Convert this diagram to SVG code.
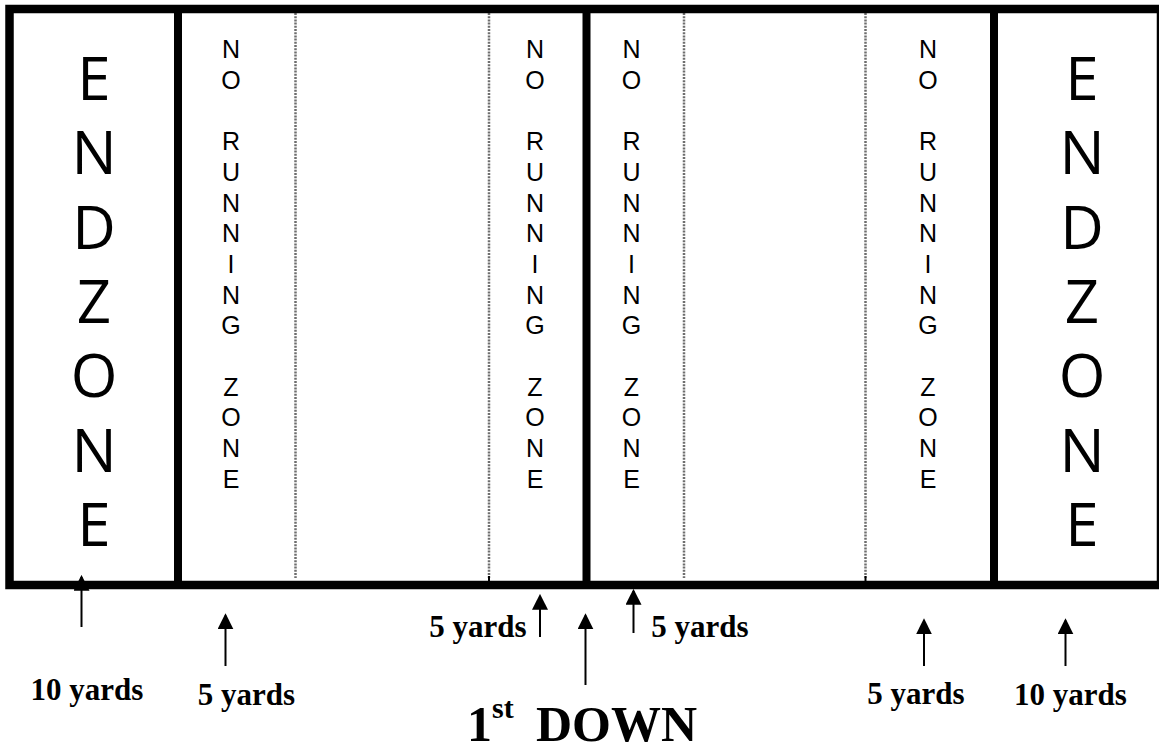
<svg xmlns="http://www.w3.org/2000/svg" width="1159" height="752" viewBox="0 0 1159 752">
  <defs>
    <marker id="ah" markerUnits="userSpaceOnUse" markerWidth="16" markerHeight="16" refX="13" refY="7.5" orient="auto" viewBox="0 0 15 15">
      <path d="M0,0 L15,7.5 L0,15 Z" fill="#000"/>
    </marker>
    <style>
      .border { fill: none; stroke: #000; stroke-width: 8.5; }
      .thick { stroke: #000; stroke-width: 8; }
      .dot { stroke: #6e6e6e; stroke-width: 2.5; stroke-dasharray: 2 1.2; }
      .tick { stroke: #000; stroke-width: 2; }
      .ez { font-family: "Open Sans", "DejaVu Sans", sans-serif; font-size: 60px; fill: #000; text-anchor: middle; }
      .nrz { font-family: "Liberation Sans", Arial, sans-serif; font-size: 25px; fill: #000; text-anchor: middle; }
      .lbl { font-family: "Liberation Serif", "Times New Roman", serif; font-weight: bold; font-size: 31px; fill: #000; text-anchor: middle; }
      .down { font-family: "Liberation Serif", "Times New Roman", serif; font-weight: bold; font-size: 50px; fill: #000; }
      .arrow { stroke: #000; stroke-width: 2; fill: none; marker-end: url(#ah); }
    </style>
  </defs>
  <rect width="1159" height="752" fill="#fff"/>

  <g id="field">
    <line class="dot" x1="295.5" y1="13" x2="295.5" y2="578"/>
    <line class="dot" x1="489" y1="13" x2="489" y2="578"/>
    <line class="dot" x1="684" y1="13" x2="684" y2="578"/>
    <line class="dot" x1="865.5" y1="13" x2="865.5" y2="578"/>
    <line class="tick" x1="489" y1="576" x2="489" y2="582"/>
    <line class="tick" x1="865.5" y1="576" x2="865.5" y2="582"/>
    <rect class="border" x="9.5" y="9" width="1151.5" height="576"/>
    <line class="thick" x1="178" y1="9" x2="178" y2="585"/>
    <line class="thick" x1="586.5" y1="9" x2="586.5" y2="585"/>
    <line class="thick" x1="994" y1="9" x2="994" y2="585"/>
  </g>

  <g id="endzone-left">
    <text class="ez" x="94"><tspan x="94" y="100">E</tspan><tspan x="94" y="174.3">N</tspan><tspan x="94" y="248.6">D</tspan><tspan x="94" y="322.9">Z</tspan><tspan x="94" y="397.2">O</tspan><tspan x="94" y="471.5">N</tspan><tspan x="94" y="545.8">E</tspan></text>
  </g>
  <g id="endzone-right">
    <text class="ez" x="1082"><tspan x="1082" y="100">E</tspan><tspan x="1082" y="174.3">N</tspan><tspan x="1082" y="248.6">D</tspan><tspan x="1082" y="322.9">Z</tspan><tspan x="1082" y="397.2">O</tspan><tspan x="1082" y="471.5">N</tspan><tspan x="1082" y="545.8">E</tspan></text>
  </g>

  <g id="nrz-1">
    <text class="nrz"><tspan x="231" y="58">N</tspan><tspan x="231" y="88.7">O</tspan><tspan x="231" y="150.1">R</tspan><tspan x="231" y="180.8">U</tspan><tspan x="231" y="211.5">N</tspan><tspan x="231" y="242.2">N</tspan><tspan x="231" y="272.9">I</tspan><tspan x="231" y="303.6">N</tspan><tspan x="231" y="334.3">G</tspan><tspan x="231" y="395.7">Z</tspan><tspan x="231" y="426.4">O</tspan><tspan x="231" y="457.1">N</tspan><tspan x="231" y="487.8">E</tspan></text>
  </g>
  <g id="nrz-2">
    <text class="nrz"><tspan x="535" y="58">N</tspan><tspan x="535" y="88.7">O</tspan><tspan x="535" y="150.1">R</tspan><tspan x="535" y="180.8">U</tspan><tspan x="535" y="211.5">N</tspan><tspan x="535" y="242.2">N</tspan><tspan x="535" y="272.9">I</tspan><tspan x="535" y="303.6">N</tspan><tspan x="535" y="334.3">G</tspan><tspan x="535" y="395.7">Z</tspan><tspan x="535" y="426.4">O</tspan><tspan x="535" y="457.1">N</tspan><tspan x="535" y="487.8">E</tspan></text>
  </g>
  <g id="nrz-3">
    <text class="nrz"><tspan x="631.5" y="58">N</tspan><tspan x="631.5" y="88.7">O</tspan><tspan x="631.5" y="150.1">R</tspan><tspan x="631.5" y="180.8">U</tspan><tspan x="631.5" y="211.5">N</tspan><tspan x="631.5" y="242.2">N</tspan><tspan x="631.5" y="272.9">I</tspan><tspan x="631.5" y="303.6">N</tspan><tspan x="631.5" y="334.3">G</tspan><tspan x="631.5" y="395.7">Z</tspan><tspan x="631.5" y="426.4">O</tspan><tspan x="631.5" y="457.1">N</tspan><tspan x="631.5" y="487.8">E</tspan></text>
  </g>
  <g id="nrz-4">
    <text class="nrz"><tspan x="928" y="58">N</tspan><tspan x="928" y="88.7">O</tspan><tspan x="928" y="150.1">R</tspan><tspan x="928" y="180.8">U</tspan><tspan x="928" y="211.5">N</tspan><tspan x="928" y="242.2">N</tspan><tspan x="928" y="272.9">I</tspan><tspan x="928" y="303.6">N</tspan><tspan x="928" y="334.3">G</tspan><tspan x="928" y="395.7">Z</tspan><tspan x="928" y="426.4">O</tspan><tspan x="928" y="457.1">N</tspan><tspan x="928" y="487.8">E</tspan></text>
  </g>

  <g id="connectors">
    <line class="arrow" x1="81.5" y1="627" x2="81.5" y2="577"/>
    <line class="arrow" x1="225.5" y1="666" x2="225.5" y2="615.5"/>
    <line class="arrow" x1="540" y1="637" x2="540" y2="596"/>
    <line class="arrow" x1="585.5" y1="685" x2="585.5" y2="615.5"/>
    <line class="arrow" x1="633.5" y1="633" x2="633.5" y2="591"/>
    <line class="arrow" x1="924" y1="666" x2="924" y2="620.5"/>
    <line class="arrow" x1="1065.5" y1="666" x2="1065.5" y2="620.5"/>
  </g>

  <g id="labels">
    <text class="lbl" x="87" y="700">10 yards</text>
    <text class="lbl" x="246.5" y="705">5 yards</text>
    <text class="lbl" x="478" y="637">5 yards</text>
    <text class="lbl" x="700" y="637">5 yards</text>
    <text class="lbl" x="916" y="704">5 yards</text>
    <text class="lbl" x="1070.5" y="705">10 yards</text>
    <text class="down" x="467" y="741">1<tspan font-size="30" dy="-23">st</tspan><tspan x="536" dy="23">DOWN</tspan></text>
  </g>
</svg>
